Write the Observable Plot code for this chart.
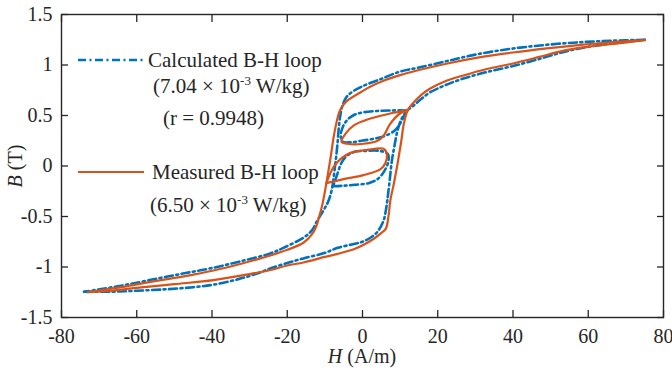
<!DOCTYPE html>
<html>
<head>
<meta charset="utf-8">
<script src="https://cdn.jsdelivr.net/npm/d3@7"></script>
<script src="https://cdn.jsdelivr.net/npm/@observablehq/plot@0.6"></script>
<style>
  body { margin: 0; background: #fff; }
  #chart { width: 672px; height: 371px; }
  #chart svg, #chart svg text { font-family: "Liberation Serif", "Times New Roman", serif !important; }
</style>
</head>
<body>
<div id="chart"></div>
<script>
// Axis ticks
const hTicks = [-80, -60, -40, -20, 0, 20, 40, 60, 80];
const bTicks = [-1.5, -1, -0.5, 0, 0.5, 1, 1.5];

// Measured B-H loop, [H (A/m), B (T)]
const measuredDescending = [
  [75,1.245],[66,1.225],[58,1.2],[49,1.165],[40,1.124],[31,1.075],[22.6,1.015],[15,0.95],[10,0.9],
  [5.6,0.845],[2,0.785],[-0.5,0.73],[-2.5,0.685],[-4,0.65],[-5.2,0.6],[-6,0.55],[-6.6,0.48],
  [-7.2,0.38],[-7.7,0.28],[-8.5,0.08],[-9.6,-0.17],[-10.6,-0.37],[-11.5,-0.5],[-12.3,-0.6],
  [-13.5,-0.68],[-15.7,-0.76],[-20,-0.83],[-24.5,-0.886],[-32,-0.965],[-39.6,-1.035],[-47,-1.09],
  [-56,-1.145],[-64,-1.2],[-71.5,-1.24],[-73,-1.25]
];
const measuredAscending = [
  [-73,-1.25],[-67,-1.235],[-60.8,-1.21],[-50,-1.17],[-39.6,-1.13],[-30,-1.07],[-24.5,-1.03],
  [-20,-0.985],[-15.7,-0.955],[-10,-0.9],[-6.6,-0.87],[-2,-0.82],[0.3,-0.78],[3,-0.72],[4.8,-0.67],
  [6.2,-0.62],[6.9,-0.5],[7.4,-0.34],[8.3,-0.18],[9.3,0.02],[10.2,0.22],[11,0.42],[12,0.55],
  [13.6,0.63],[15.5,0.7],[18,0.767],[22,0.84],[26.8,0.896],[33,0.96],[40,1.015],[47,1.08],
  [53.5,1.143],[60,1.18],[66.7,1.21],[75,1.245]
];
const measuredMinorUpper = [
  [12,0.55],[7.4,0.52],[2.1,0.47],[-2.4,0.4],[-4.5,0.32],[-5.6,0.24],[-4,0.22],[0.3,0.22],
  [4,0.25],[5.6,0.3],[7.4,0.42],[10,0.52],[12,0.55]
];
const measuredMinorLower = [
  [-9.6,-0.17],[-7.7,-0.01],[-5.8,0.07],[-3.2,0.13],[1.3,0.16],[5.6,0.17],[6.4,0.13],[6.1,0.03],
  [4.8,-0.03],[0.3,-0.09],[-5,-0.13],[-9.6,-0.17]
];

// Calculated B-H loop, [H (A/m), B (T)]
const calculatedDescending = [
  [75,1.25],[66,1.24],[58,1.226],[49,1.2],[40,1.163],[31,1.11],[22.6,1.04],[15,0.975],[10,0.935],
  [4.8,0.86],[0,0.79],[-2.5,0.74],[-4.3,0.68],[-5.3,0.6],[-5.9,0.5],[-6.3,0.38],[-6.7,0.2],
  [-7.3,0],[-8.2,-0.24],[-9.2,-0.36],[-10.4,-0.44],[-12,-0.54],[-13.5,-0.64],[-15.7,-0.71],
  [-21,-0.81],[-24.5,-0.865],[-32,-0.94],[-40,-1.01],[-47,-1.06],[-54,-1.11],[-62,-1.17],
  [-68,-1.21],[-74,-1.245]
];
const calculatedAscending = [
  [-74,-1.245],[-67,-1.245],[-60,-1.235],[-52,-1.22],[-45,-1.2],[-39.6,-1.175],[-33,-1.12],
  [-28,-1.065],[-24.5,-1.015],[-20,-0.96],[-15.7,-0.915],[-10,-0.86],[-6.6,-0.81],[-2,-0.77],
  [0,-0.75],[2.1,-0.71],[4,-0.65],[5.6,-0.54],[6.2,-0.44],[6.6,-0.34],[7.2,-0.15],[7.8,0.05],
  [8.5,0.2],[9.3,0.35],[10.3,0.46],[11.7,0.54],[13.6,0.6],[15.5,0.66],[18,0.73],[22,0.8],
  [26.8,0.866],[33,0.93],[40,0.99],[47,1.06],[53.5,1.13],[60,1.18],[66.7,1.215],[75,1.25]
];
const calculatedMinorUpper = [
  [11.7,0.55],[8,0.55],[4,0.545],[0,0.53],[-2.5,0.5],[-4.2,0.45],[-5.3,0.38],[-5.8,0.3],
  [-5.2,0.24],[-3,0.235],[-0.3,0.25],[3,0.27],[6.1,0.3],[8.5,0.35],[10,0.42],[11.7,0.55]
];
const calculatedMinorLower = [
  [-7.8,-0.2],[-5,-0.195],[-2,-0.185],[1.6,-0.17],[4,-0.13],[5.8,-0.05],[6.9,0.05],[6.7,0.12],
  [4.5,0.15],[1,0.15],[-2,0.14],[-4.2,0.1],[-5.6,0.03],[-6.6,-0.07],[-7.8,-0.2]
];

const blue = "#0072BD";
const orange = "#D95319";
const ink = "#262626";
const serif = "Liberation Serif, Times New Roman, serif";

function toRows(parts) {
  const rows = [];
  parts.forEach((pts, k) => pts.forEach(([H, B]) => rows.push({part: k, H, B})));
  return rows;
}
const calculatedRows = toRows([calculatedDescending, calculatedAscending, calculatedMinorUpper, calculatedMinorLower]);
const measuredRows = toRows([measuredDescending, measuredAscending, measuredMinorUpper, measuredMinorLower]);

const fmt = d => String(d);
const tickStyle = {tickFormat: () => "", label: null, stroke: ink, strokeWidth: 1.3};

const chart = Plot.plot({
  width: 672,
  height: 371,
  marginLeft: 61,
  marginRight: 9,
  marginTop: 14,
  marginBottom: 54,
  style: {fontFamily: serif, fontSize: "20px", color: ink, background: "#fff"},
  x: {domain: [-80, 80]},
  y: {domain: [-1.5, 1.5]},
  marks: [
    Plot.line(calculatedRows, {x: "H", y: "B", z: "part", stroke: blue, strokeWidth: 2.6,
      strokeDasharray: "8,3.5,2,3.5", curve: "catmull-rom"}),
    Plot.line(measuredRows, {x: "H", y: "B", z: "part", stroke: orange, strokeWidth: 2.2,
      curve: "catmull-rom"}),
    // tick labels
    Plot.axisX(hTicks, {anchor: "bottom", tickSize: 0, tickPadding: 11, tickFormat: fmt, label: null,
      fontSize: 20, fontFamily: serif, fill: ink}),
    Plot.axisY(bTicks, {anchor: "left", tickSize: 0, tickPadding: 9, tickFormat: fmt, label: null,
      fontSize: 20, fontFamily: serif, fill: ink}),
    // inward ticks on all four sides
    Plot.axisX(hTicks, {anchor: "bottom", tickSize: 7, dy: -7, ...tickStyle}),
    Plot.axisX(hTicks, {anchor: "top", tickSize: 7, dy: 7, ...tickStyle}),
    Plot.axisY(bTicks, {anchor: "left", tickSize: 7, dx: 7, ...tickStyle}),
    Plot.axisY(bTicks, {anchor: "right", tickSize: 7, dx: -7, ...tickStyle}),
    Plot.frame({stroke: ink, strokeWidth: 1.4})
  ]
});

document.getElementById("chart").append(chart);

// Axis titles with italic variable names, and the in-plot legend
const svg = d3.select(chart);
svg.selectAll("text").attr("font-family", serif);

const xt = svg.append("text").attr("x", 362).attr("y", 363).attr("text-anchor", "middle")
  .attr("font-family", serif).attr("font-size", 20).attr("fill", ink);
xt.append("tspan").attr("font-style", "italic").text("H");
xt.append("tspan").text(" (A/m)");

const yt = svg.append("text").attr("transform", "translate(22,166) rotate(-90)").attr("text-anchor", "middle")
  .attr("font-family", serif).attr("font-size", 20).attr("fill", ink);
yt.append("tspan").attr("font-style", "italic").text("B");
yt.append("tspan").text(" (T)");

const legend = svg.append("g").attr("font-family", serif).attr("font-size", 21)
  .attr("fill", ink).attr("text-anchor", "start");
legend.append("line").attr("x1", 78).attr("x2", 143).attr("y1", 60).attr("y2", 60)
  .attr("stroke", blue).attr("stroke-width", 2.6).attr("stroke-dasharray", "8,3.5,2,3.5");
legend.append("text").attr("x", 148).attr("y", 67).text("Calculated B-H loop");
function lossLine(x, y, value) {
  const t = legend.append("text").attr("x", x).attr("y", y);
  t.append("tspan").text(`(${value} × 10`);
  t.append("tspan").attr("font-size", 13).attr("dy", -8).text("-3");
  t.append("tspan").attr("dy", 8).text(" W/kg)");
}
lossLine(153, 93, "7.04");
legend.append("text").attr("x", 163).attr("y", 125).text("(r = 0.9948)");
legend.append("line").attr("x1", 78).attr("x2", 144).attr("y1", 172).attr("y2", 172)
  .attr("stroke", orange).attr("stroke-width", 2.2);
legend.append("text").attr("x", 152).attr("y", 179).text("Measured B-H loop");
lossLine(150, 212, "6.50");
</script>
</body>
</html>
